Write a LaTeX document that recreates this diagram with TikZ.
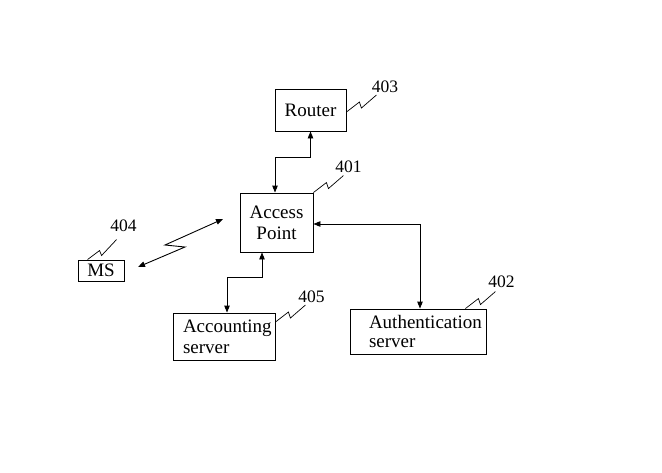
\documentclass[tikz,border=0pt]{standalone}
\usepackage{fontspec}
\setmainfont{Liberation Serif}
\usetikzlibrary{arrows.meta,calc}
\begin{document}
\begin{tikzpicture}[x=1pt,y=-1pt,
  box/.style={draw,line width=0.9pt,inner sep=0pt,font=\fontsize{19}{21}\selectfont},
  lbl/.style={font=\fontsize{17.5}{20}\selectfont,inner sep=0pt},
  link/.style={line width=0.9pt,{Triangle[length=7pt,width=5.5pt]}-{Triangle[length=7pt,width=5.5pt]}},
  lead/.style={line width=0.7pt}]
\useasboundingbox (0,0) rectangle (662,472);
% boxes
\node[box,minimum width=71pt,minimum height=42pt] (router) at (310.5,110) {Router};
\node[box,minimum width=73pt,minimum height=59pt,align=center] (ap) at (276.5,222.5) {Access\\Point};
\node[box,minimum width=46pt,minimum height=21pt] (ms) at (101,270.5) {MS};
\node[box,minimum height=47pt,inner xsep=10pt,text width=82pt,align=left] (acc) at (224,336.5) {\mbox{Accounting}\\server};
\node[box,minimum height=45pt,inner xsep=19pt,text width=98pt,align=left,font=\fontsize{19}{19.5}\selectfont] (auth) at (418,331.5) {\mbox{Authentication}\\server};
% connectors
\draw[link] (router.south) -- ++(0,26) -| ($(ap.north)+(-1.5,0)$);
\draw[link] ($(ap.south)+(-14.5,0)$) -- ++(0,25) -| ($(acc.north)+(3,0)$);
\draw[link] ($(ap.east)+(0,1.5)$) -| ($(auth.north)+(2,0)$);
% wireless link
\coordinate (lz1) at (138,267);
\coordinate (lz2) at (223,219);
\draw[link] (lz1) -- (185,247) -- (165,245) -- (lz2);
% reference labels
\node[lbl] (n403) at (385,87) {403};
\node[lbl] (n401) at (348.5,166.5) {401};
\node[lbl] (n404) at (123.5,226) {404};
\node[lbl] (n405) at (311.5,296.5) {405};
\node[lbl] (n402) at (501.5,281.5) {402};
\draw[lead] ($(router.east)+(0,2)$) -- ++(13,-10) -- ++(2,6) -- ++(15,-13);
\draw[lead] (ap.north east) -- ++(13,-10) -- ++(2,6) -- ++(15,-13);
\draw[lead] ($(ms.north west)+(10,0)$) -- ++(12,-9) -- ++(2,5) -- ++(15,-16);
\draw[lead] ($(acc.east)+(0,-14.5)$) -- ++(13,-10) -- ++(2,6) -- ++(15,-13);
\draw[lead] ($(auth.north east)+(-21,0)$) -- ++(13,-10) -- ++(2,6) -- ++(15,-13);
\end{tikzpicture}
\end{document}
